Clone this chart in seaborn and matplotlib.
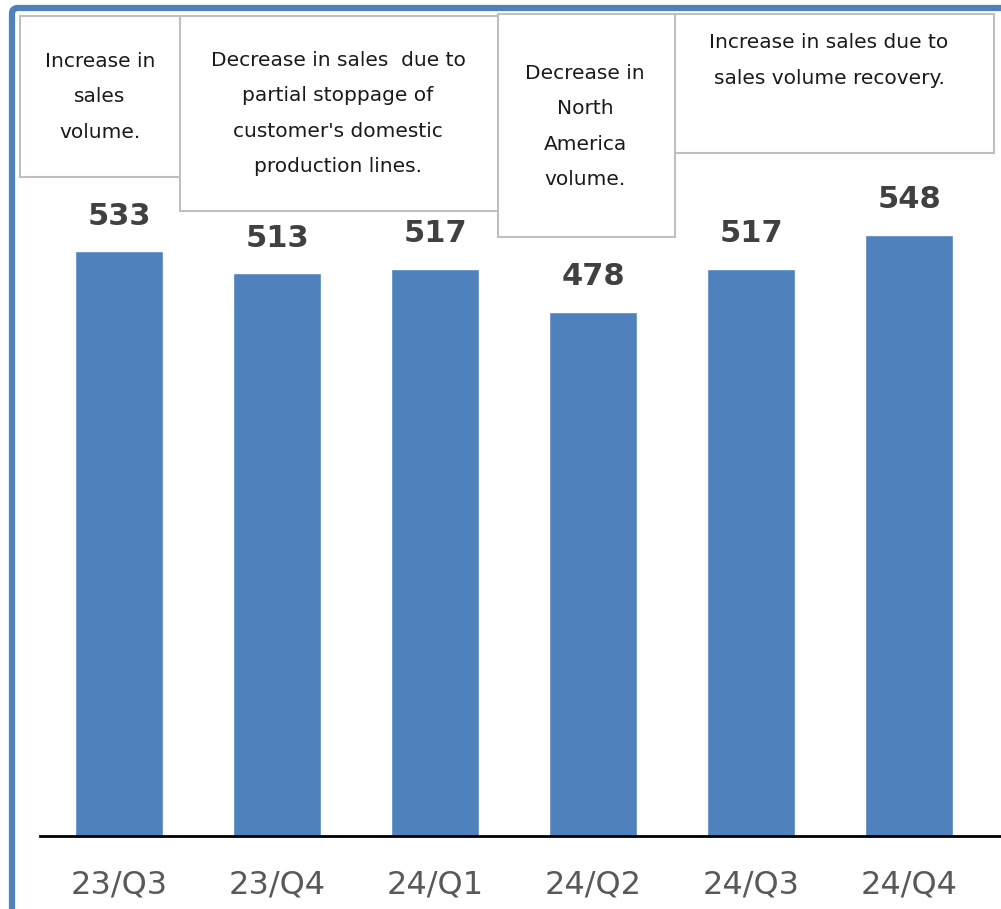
import matplotlib
matplotlib.use("Agg")
import matplotlib.pyplot as plt
import seaborn as sns
import pandas as pd
from matplotlib.patches import Rectangle, FancyBboxPatch

quarters = ["23/Q3", "23/Q4", "24/Q1", "24/Q2", "24/Q3", "24/Q4"]
sales = [533, 513, 517, 478, 517, 548]
notes = [
    "Increase in\nsales\nvolume.",
    "Decrease in sales  due to\npartial stoppage of\ncustomer's domestic\nproduction lines.",
    "Decrease in\nNorth\nAmerica\nvolume.",
    "Increase in sales due to\nsales volume recovery.",
]

sns.set_theme(style="white")
plt.rcParams['font.family'] = ['DejaVu Sans']

W, H = 1001, 909
fig = plt.figure(figsize=(W / 100, H / 100), dpi=100)

BLUE = "#4f81bd"

def fx(px):
    return px / W

def fy(py):
    return 1 - py / H

# axes: baseline at y=836 px, x from 40 px
base_px = 836
scale = 1.097
ax = fig.add_axes([fx(40), fy(base_px), fx(961), base_px / H])
df = pd.DataFrame({"quarter": quarters, "sales": sales})
sns.barplot(data=df, x="quarter", y="sales", color=BLUE, saturation=1,
            width=0.557, ax=ax)
ax.set_xlim(-0.5, 5.58)
ax.set_ylim(0, base_px / scale)
for s in ["top", "left", "right"]:
    ax.spines[s].set_visible(False)
ax.spines["bottom"].set_color("black")
ax.spines["bottom"].set_linewidth(2)
ax.set_yticks([])
ax.set_xlabel("")
ax.set_ylabel("")
ax.tick_params(axis="x", length=0, pad=24, labelsize=23, labelcolor="#595959")
ax.patch.set_alpha(0)

for i, v in enumerate(sales):
    ax.annotate(str(v), (i, v), xytext=(0, 19), textcoords="offset points",
                ha="center", va="baseline", fontsize=22, fontweight="bold",
                color="#404040")

# outer blue frame
frame = FancyBboxPatch((fx(12), fy(2000)), fx(2000), (2000 - 8) / H,
                       boxstyle="round,pad=0,rounding_size=0.006",
                       transform=fig.transFigure, fill=False,
                       edgecolor=BLUE, linewidth=4.5, zorder=1)
fig.add_artist(frame)

# annotation boxes: (left, top, right, bottom, text center y, text center x)
boxes = [
    (20, 16, 180, 177, 97, 100),
    (180, 16, 500, 211, 113.5, 338),
    (498, 14, 675, 237, 126.5, 585),
    (675, 14, 994, 153, 60.5, 829),
]
for k, (l, t, r, b, cy, cx) in enumerate(boxes):
    rect = Rectangle((fx(l), fy(b)), fx(r - l), (b - t) / H,
                     transform=fig.transFigure, facecolor="white",
                     edgecolor="#bfbfbf", linewidth=1.5, zorder=5 + k)
    fig.add_artist(rect)
    fig.text(fx(cx), fy(cy), notes[k], ha="center", va="center",
             fontsize=14.5, linespacing=2.1, color="#1a1a1a", zorder=5 + k)

fig.savefig("out.png", dpi=100)
